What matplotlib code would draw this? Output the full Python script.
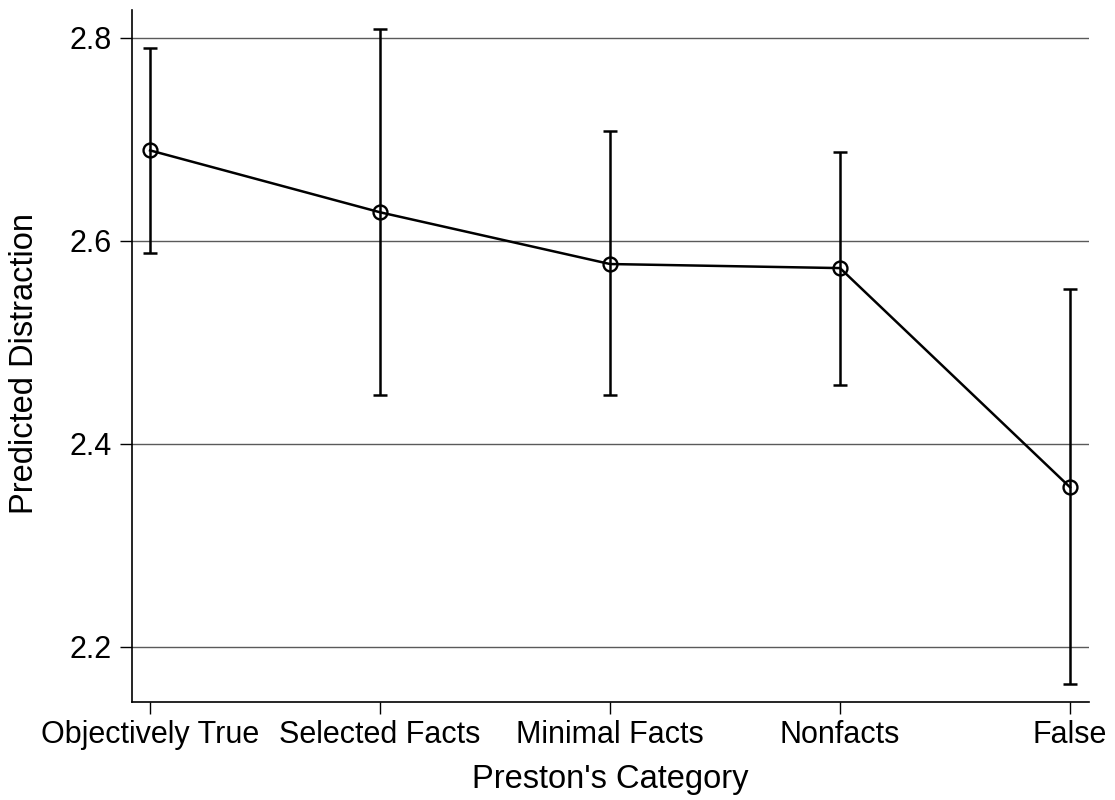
import matplotlib
matplotlib.use("Agg")
import matplotlib.pyplot as plt

plt.rcParams["font.family"] = ["Liberation Sans", "DejaVu Sans"]

# Predicted margins by category with 95% CI
categories = ["Objectively True", "Selected Facts", "Minimal Facts", "Nonfacts", "False"]
predicted = [2.689, 2.628, 2.577, 2.573, 2.357]
ci_low = [2.588, 2.448, 2.448, 2.458, 2.163]
ci_high = [2.790, 2.809, 2.708, 2.687, 2.552]
y_ticks = [2.2, 2.4, 2.6, 2.8]

W, H = 1115, 800
fig = plt.figure(figsize=(W / 100, H / 100), dpi=100)
left, right, top, bottom = 131.7, 1089.3, 10, 702.3
ax = fig.add_axes([left / W, (H - bottom) / H, (right - left) / W, (bottom - top) / H])

x = list(range(len(categories)))
err_lo = [p - lo for p, lo in zip(predicted, ci_low)]
err_hi = [hi - p for p, hi in zip(predicted, ci_high)]

# Confidence intervals
ax.errorbar(x, predicted, yerr=[err_lo, err_hi], fmt="none", ecolor="black",
            elinewidth=1.8, capsize=4.8, capthick=1.8, zorder=3)
# Connected point estimates
ax.plot(x, predicted, color="black", linewidth=1.8, marker="o", markersize=10,
        markerfacecolor="none", markeredgecolor="black", markeredgewidth=1.7, zorder=4)

ax.set_xlim(-0.08, 4.084)
ax.set_ylim(2.145, 2.8274)
ax.set_xticks(x)
ax.set_xticklabels(categories)
ax.set_yticks(y_ticks)
ax.set_yticklabels([f"{v:.1f}" for v in y_ticks])

ax.grid(axis="y", color="#5a5a5a", linewidth=1.0)
ax.set_axisbelow(True)

for side in ["top", "right"]:
    ax.spines[side].set_visible(False)
for side in ["left", "bottom"]:
    ax.spines[side].set_linewidth(1.2)

ax.tick_params(axis="both", length=8.6, width=1.0, labelsize=22, colors="black")
ax.tick_params(axis="y", pad=6)
ax.tick_params(axis="x", pad=4)

ax.set_xlabel("Preston's Category", fontsize=23.5, labelpad=10)
ax.set_ylabel("Predicted Distraction", fontsize=23.5)
ax.yaxis.set_label_coords(-0.096, 0.489)

fig.savefig("out.png", dpi=100, facecolor="white")
